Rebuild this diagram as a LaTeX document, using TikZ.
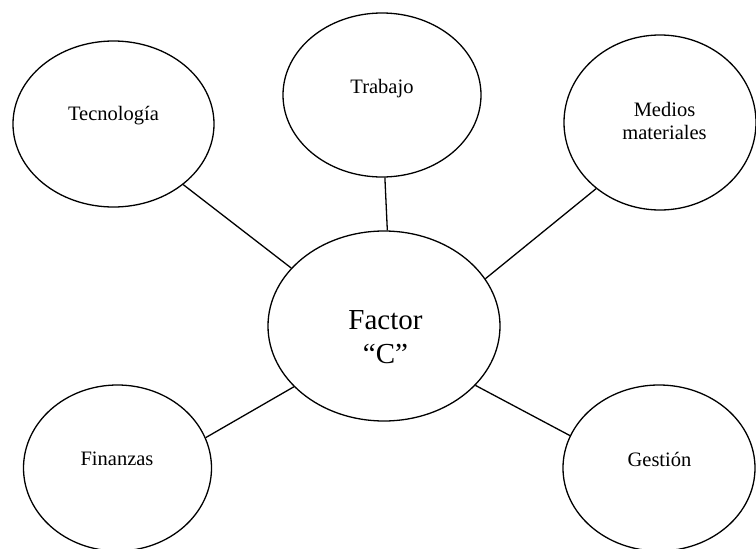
\documentclass[tikz,border=0pt]{standalone}
\usepackage{fontspec}
\setmainfont{Liberation Serif}
\usetikzlibrary{shapes.geometric}
\begin{document}
\begin{tikzpicture}[x=1pt,y=-1pt,
  bubble/.style={ellipse,draw=black,line width=1.3pt,inner sep=0pt},
  lab/.style={inner sep=0pt,font=\fontsize{20.5}{23.5}\selectfont,align=center},
  biglab/.style={inner sep=0pt,font=\fontsize{29}{34}\selectfont,align=center},
  link/.style={draw=black,line width=1.3pt}]
\useasboundingbox[fill=white] (0,0) rectangle (756,549);
% ellipses
\node[bubble,minimum width=201pt,minimum height=166pt] (tec) at (113.5,124) {};
\node[bubble,minimum width=198pt,minimum height=164pt] (tra) at (382,95) {};
\node[bubble,minimum width=192pt,minimum height=175pt] (med) at (660,122.5) {};
\node[bubble,minimum width=232pt,minimum height=190pt] (fac) at (384,326) {};
\node[bubble,minimum width=188pt,minimum height=166pt] (fin) at (117.5,468) {};
\node[bubble,minimum width=192pt,minimum height=166pt] (ges) at (659,468) {};
% labels
\node[lab,anchor=base] (tect) at (113.5,120.7) {Tecnología};
\node[lab,anchor=base] (trat) at (382,93) {Trabajo};
\node[lab] (medt) at (664.5,121) {Medios\\materiales};
\node[biglab] (fact) at (385.5,337) {Factor\\“C”};
\node[lab,anchor=base] (fint) at (117,465) {Finanzas};
\node[lab,anchor=base] (gest) at (659.5,466) {Gestión};
% connectors
\draw[link] (tec.-41.8) -- (fac.148.5);
\draw[link] (tra.-88.6) -- (fac.88.2);
\draw[link] (med.-134.3) -- (fac.25.2);
\draw[link] (fin.19.1) -- (fac.-146.9);
\draw[link] (ges.160) -- (fac.-33.7);
\end{tikzpicture}
\end{document}
